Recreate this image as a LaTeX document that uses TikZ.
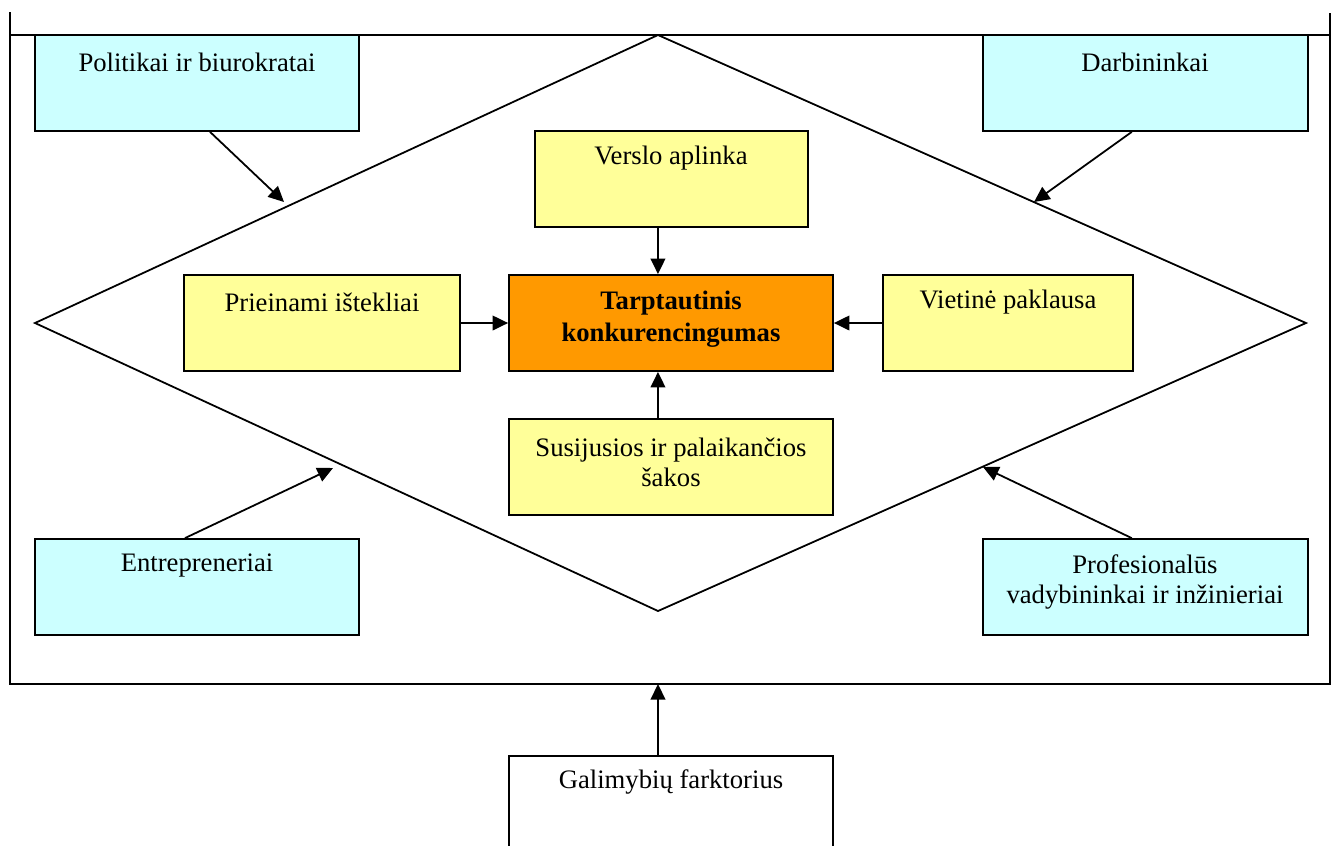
\documentclass[tikz,border=0pt]{standalone}
\usepackage{fontspec}
\setmainfont{Liberation Serif}
\usetikzlibrary{arrows.meta,fit,calc}
\definecolor{actor}{HTML}{CCFFFF}
\definecolor{factor}{HTML}{FFFF99}
\definecolor{core}{HTML}{FF9900}
\begin{document}
\begin{tikzpicture}[x=0.45pt,y=-0.45pt,
  line width=0.8pt,
  every node/.style={font=\fontsize{12}{13.6}\selectfont},
  boxbase/.style={draw=black,line width=0.8pt,inner sep=0pt},
  actorbox/.style={boxbase,fill=actor},
  factorbox/.style={boxbase,fill=factor},
  corebox/.style={boxbase,fill=core},
  plainbox/.style={boxbase,fill=white},
  txt/.style={align=center,inner sep=0pt},
  arr/.style={-{Triangle[length=7pt,width=6.6pt]},line width=0.8pt}]
\useasboundingbox (0,0) rectangle (1338,845);
\clip (0,0) rectangle (1338,845);

% outer frame of the national environment
\draw (10,12) -- (10,684) -- (1330,684) -- (1330,13);
\draw (10,35) -- (1330,35);

% Porter diamond
\coordinate (dT) at (658,35);
\coordinate (dL) at (35,323);
\coordinate (dR) at (1306,323);
\coordinate (dB) at (658,611);
\draw (dT) -- (dR) -- (dB) -- (dL) -- cycle;

% points on the diamond edges where the actors act
\coordinate (hitPol) at (284,202);
\coordinate (hitDarb) at (1034,202);
\coordinate (hitEnt) at (333,468);
\coordinate (hitProf) at (983,467);

% actors
\node[actorbox,fit={(35,35) (359,131)}] (pol) {};
\node[txt] at (197,62) {Politikai ir biurokratai};
\node[actorbox,fit={(983,35) (1308,131)}] (darb) {};
\node[txt] at (1145,62) {Darbininkai};
\node[actorbox,fit={(35,539) (359,635)}] (ent) {};
\node[txt] at (197,566) {Entrepreneriai};
\node[actorbox,fit={(983,539) (1308,635)}] (prof) {};
\node[txt] at (1145,582) {Profesionalūs\\vadybininkai ir inžinieriai};

% diamond factors
\node[factorbox,fit={(535,131) (808,227)}] (versl) {};
\node[txt] at (671,158) {Verslo aplinka};
\node[factorbox,fit={(184,275) (460,371)}] (prie) {};
\node[txt] at (322,302) {Prieinami ištekliai};
\node[factorbox,fit={(883,275) (1133,371)}] (viet) {};
\node[txt] at (1008,302) {Vietinė paklausa};
\node[factorbox,fit={(509,419) (833,515)}] (susi) {};
\node[txt] at (671,462) {Susijusios ir palaikančios\\šakos};

% centre
\node[corebox,fit={(509,275) (833,371)}] (tarp) {};
\node[txt,font=\fontsize{12}{14.4}\selectfont\bfseries] at (671,319) {Tarptautinis\\konkurencingumas};

% chance factor
\node[plainbox,fit={(509,756) (833,860)}] (gal) {};
\node[txt] at (671,782) {Galimybių farktorius};
\coordinate (frameB) at (658,684);

% attachment points on the central box
\coordinate (tN) at ($(tarp.north west)!0.46!(tarp.north east)$);
\coordinate (tS) at ($(tarp.south west)!0.46!(tarp.south east)$);

% connectors
\draw[arr] ($(pol.south west)!0.54!(pol.south east)$) -- (hitPol);
\draw[arr] ($(darb.south west)!0.458!(darb.south east)$) -- (hitDarb);
\draw[arr] ($(ent.north west)!0.463!(ent.north east)$) -- (hitEnt);
\draw[arr] ($(prof.north west)!0.458!(prof.north east)$) -- (hitProf);
\draw[arr] (versl.south -| tN) -- (tN);
\draw[arr] (prie.east) -- (tarp.west);
\draw[arr] (viet.west) -- (tarp.east);
\draw[arr] (susi.north -| tS) -- (tS);
\draw[arr] (gal.north -| frameB) -- (frameB);
\end{tikzpicture}
\end{document}
